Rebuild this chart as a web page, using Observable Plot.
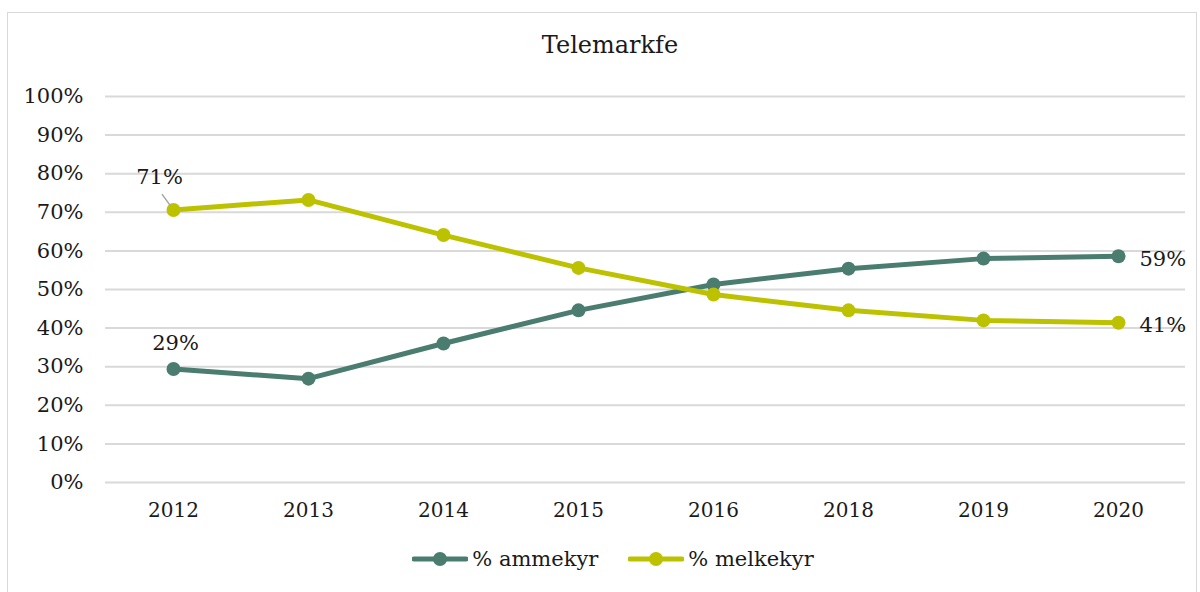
<!DOCTYPE html>
<html>
<head>
<meta charset="utf-8">
<script src="https://cdn.jsdelivr.net/npm/d3@7"></script>
<script src="https://cdn.jsdelivr.net/npm/@observablehq/plot@0.6"></script>
<style>
  html, body { margin: 0; padding: 0; background: #fff; }
  #wrap { position: relative; width: 1200px; height: 592px; overflow: hidden; font-family: "DejaVu Serif", "Liberation Serif", serif; color: #1a1a1a; }
  #frame { position: absolute; left: 7px; top: 12px; width: 1190px; height: 600px; border: 1.5px solid #d9d9d9; box-sizing: border-box; }
  #title { position: absolute; left: 0; width: 1220px; top: 31px; text-align: center; font-size: 24px; }
  #chart { position: absolute; left: 0; top: 0; }
  #legend { position: absolute; left: 0; width: 1226px; top: 547px; display: flex; justify-content: center; gap: 30px; font-size: 21px; }
  .item { display: flex; align-items: center; gap: 4px; }
</style>
</head>
<body>
<div id="wrap">
  <div id="frame"></div>
  <div id="chart"></div>
  <div id="title">Telemarkfe</div>
  <div id="legend"></div>
</div>
<script>
const years = ["2012", "2013", "2014", "2015", "2016", "2018", "2019", "2020"];
const ammekyr = [29.4, 26.9, 36.0, 44.6, 51.3, 55.4, 58.0, 58.6];
const melkekyr = [70.6, 73.2, 64.1, 55.6, 48.7, 44.6, 42.0, 41.4];
const seriesNames = ["% ammekyr", "% melkekyr"];
const seriesColors = ["#4a7c70", "#bdc200"];
const yTicks = [0, 10, 20, 30, 40, 50, 60, 70, 80, 90, 100];

const data = [
  ...years.map((y, i) => ({year: y, value: ammekyr[i], series: seriesNames[0]})),
  ...years.map((y, i) => ({year: y, value: melkekyr[i], series: seriesNames[1]}))
];
const first = years[0], last = years[years.length - 1];
const label = d => Math.round(d.value) + "%";

const leader = {
  draw(context, l) { context.moveTo(0, -6); context.lineTo(0, -l); }
};

const plot = Plot.plot({
  width: 1200,
  height: 530,
  marginLeft: 105,
  marginRight: 15,
  marginTop: 96,
  marginBottom: 48,
  style: {fontFamily: "'DejaVu Serif', 'Liberation Serif', serif", fontSize: "21px", color: "#1a1a1a", background: "transparent"},
  x: {type: "point", domain: years, padding: 0.5, label: null},
  y: {domain: [0, 100], label: null},
  color: {domain: seriesNames, range: seriesColors},
  marks: [
    Plot.ruleY(yTicks, {stroke: "#d9d9d9", strokeWidth: 2}),
    Plot.axisY({ticks: yTicks, tickSize: 0, tickPadding: 22, tickFormat: d => d + "%", label: null, fontSize: 21}),
    Plot.axisX({tickSize: 0, tickPadding: 20, label: null, fontSize: 20}),
    Plot.lineY(data, {x: "year", y: "value", stroke: "series", strokeWidth: 5, curve: "linear"}),
    Plot.dot(data, {x: "year", y: "value", fill: "series", r: 7}),
    Plot.vector(data.filter(d => d.year === first && d.series === seriesNames[1]), {
      x: "year", y: "value", length: 19, rotate: -36, anchor: "start", shape: leader, stroke: "#a6a6a6", strokeWidth: 1.5
    }),
    Plot.text(data.filter(d => d.year === first && d.series === seriesNames[1]), {
      x: "year", y: "value", text: label, dx: -14, dy: -33, fontSize: 21, fill: "#1a1a1a"
    }),
    Plot.text(data.filter(d => d.year === first && d.series === seriesNames[0]), {
      x: "year", y: "value", text: label, dx: 2, dy: -26, fontSize: 21, fill: "#1a1a1a"
    }),
    Plot.text(data.filter(d => d.year === last), {
      x: "year", y: "value", text: label, dx: 21, dy: 3, textAnchor: "start", fontSize: 21, fill: "#1a1a1a"
    })
  ]
});
document.getElementById("chart").appendChild(plot);

const legend = document.getElementById("legend");
seriesNames.forEach((name, i) => {
  const item = document.createElement("div");
  item.className = "item";
  item.innerHTML = `<svg width="56" height="20"><line x1="2" y1="10" x2="54" y2="10" stroke="${seriesColors[i]}" stroke-width="5" stroke-linecap="round"/><circle cx="28" cy="10" r="7" fill="${seriesColors[i]}"/></svg><span>${name}</span>`;
  legend.appendChild(item);
});
</script>
</body>
</html>
